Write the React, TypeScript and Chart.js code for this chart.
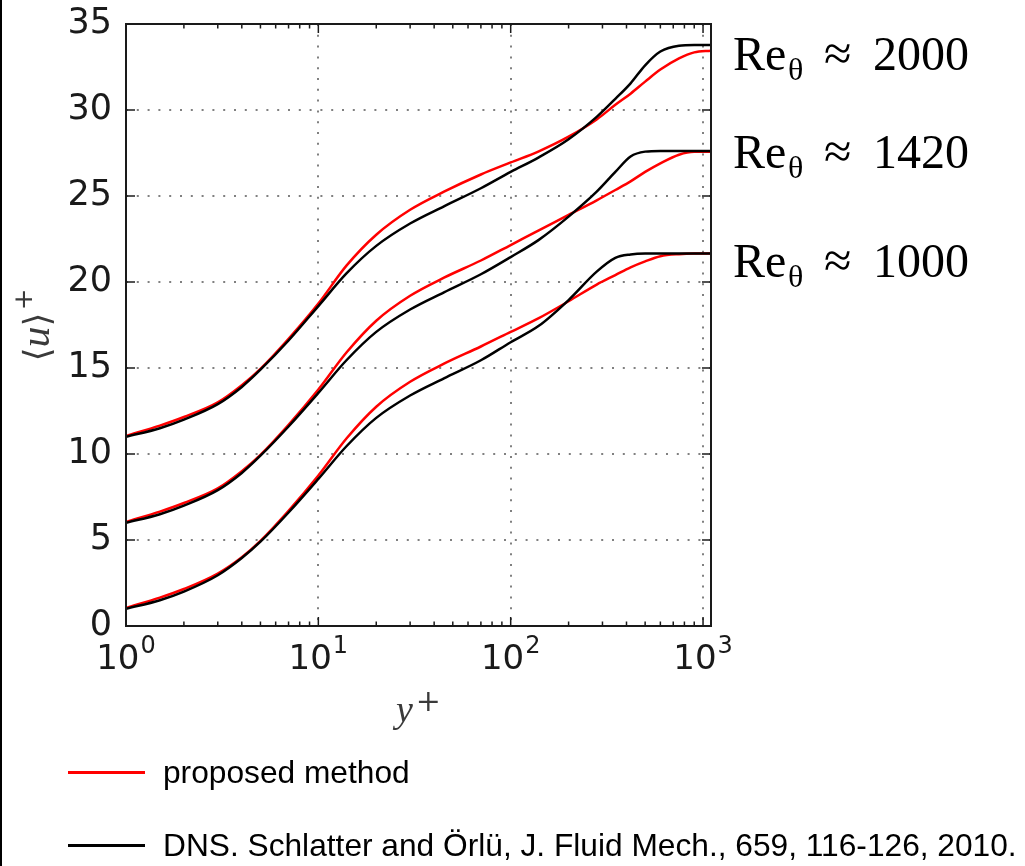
import React, { useEffect, useRef } from 'react';
import { Chart, registerables } from 'chart.js';

Chart.register(...registerables);

// ---- data ----
const yPlus = [1, 1.5, 2, 3, 4, 5, 7, 10, 14, 20, 30, 45, 70, 100, 140, 200, 280, 350, 420, 500, 600, 750, 900, 1100];

const dns1000 = [1.0, 1.5, 2.0, 2.95, 3.95, 4.9, 6.6, 8.55, 10.45, 12.1, 13.4, 14.4, 15.45, 16.5, 17.45, 18.95, 20.6, 21.4, 21.6, 21.65, 21.65, 21.65, 21.65, 21.65];
const prop1000 = [1.05, 1.65, 2.15, 3.05, 4.0, 4.95, 6.7, 8.75, 10.9, 12.75, 14.2, 15.25, 16.25, 17.1, 17.9, 18.88, 19.85, 20.4, 20.85, 21.2, 21.5, 21.62, 21.65, 21.65];

const dns1420 = [6.0, 6.5, 7.0, 7.9, 8.9, 9.9, 11.6, 13.55, 15.45, 17.1, 18.4, 19.4, 20.45, 21.45, 22.45, 23.8, 25.25, 26.4, 27.3, 27.58, 27.62, 27.62, 27.62, 27.62];
const prop1420 = [6.05, 6.65, 7.15, 8.0, 9.0, 9.95, 11.7, 13.75, 15.9, 17.75, 19.2, 20.25, 21.25, 22.15, 23.0, 23.9, 24.75, 25.35, 25.85, 26.4, 26.9, 27.4, 27.57, 27.57];

const dns2000 = [11.0, 11.5, 12.0, 12.9, 13.9, 14.9, 16.6, 18.6, 20.5, 22.1, 23.4, 24.4, 25.45, 26.4, 27.25, 28.3, 29.6, 30.65, 31.55, 32.6, 33.4, 33.74, 33.78, 33.78];
const prop2000 = [11.05, 11.65, 12.15, 13.0, 14.0, 14.95, 16.7, 18.75, 20.95, 22.75, 24.2, 25.25, 26.25, 26.95, 27.6, 28.45, 29.45, 30.3, 30.95, 31.65, 32.35, 33.0, 33.35, 33.45];

const xTickValues = [1, 10, 100, 1000];
const xTickLabels = ['10^0', '10^1', '10^2', '10^3'];
const yTickStep = 5;

const xTitleParts = ['y', '+'];
const yTitleParts = ['⟨', 'u', '⟩', '+'];

const reLabels = ['2000', '1420', '1000'];
const reLabelY = [32.3, 26.65, 20.3];

const legendLabels = ['proposed method', 'DNS. Schlatter and Örlü, J. Fluid Mech., 659, 116-126, 2010.'];
const legendColors = ['#ff0000', '#000000'];

const toPts = (ys: number[]) => ys.map((v, i) => ({ x: yPlus[i], y: v }));

const isPow10 = (v: number) => {
  const e = Math.log10(v);
  return Math.abs(e - Math.round(e)) < 1e-9;
};

const framePlugin = {
  id: 'frameTicks',
  afterDatasetsDraw(chart: any) {
    const { ctx, chartArea: a, scales } = chart;
    const xs = scales.x;
    const ys = scales.y;
    ctx.save();
    ctx.strokeStyle = '#1a1a1a';
    ctx.lineWidth = 1.5;
    const line = (x1: number, y1: number, x2: number, y2: number) => {
      ctx.beginPath();
      ctx.moveTo(x1, y1);
      ctx.lineTo(x2, y2);
      ctx.stroke();
    };
    xs.ticks.forEach((t: any) => {
      const v = t.value;
      if (v < xs.min - 1e-9 || v > xs.max + 1e-9) return;
      const e = Math.floor(Math.log10(v) + 1e-9);
      const sig = v / Math.pow(10, e);
      if (Math.abs(sig - Math.round(sig)) > 1e-6) return;
      const px = xs.getPixelForValue(v);
      const len = isPow10(v) ? 9 : 4.5;
      line(px, a.bottom, px, a.bottom - len);
      line(px, a.top, px, a.top + len);
    });
    ys.ticks.forEach((t: any) => {
      const py = ys.getPixelForValue(t.value);
      line(a.left, py, a.left + 9, py);
      line(a.right, py, a.right - 9, py);
    });
    ctx.lineWidth = 2;
    ctx.strokeRect(a.left, a.top, a.right - a.left, a.bottom - a.top);
    ctx.restore();
  },
};

const labelPlugin = {
  id: 'axisText',
  afterDraw(chart: any) {
    const { ctx, chartArea: a, scales } = chart;
    const xs = scales.x;
    ctx.save();
    ctx.textAlign = 'left';
    ctx.textBaseline = 'alphabetic';

    // x tick labels with superscript exponents
    ctx.fillStyle = '#1a1a1a';
    xTickValues.forEach((v, i) => {
      const [base, exp] = xTickLabels[i].split('^');
      const px = xs.getPixelForValue(v);
      ctx.font = '34px "DejaVu Sans"';
      const wb = ctx.measureText(base).width;
      ctx.font = '24px "DejaVu Sans"';
      const we = ctx.measureText(exp).width;
      const x0 = px - (wb + we + 1) / 2;
      ctx.font = '34px "DejaVu Sans"';
      ctx.fillText(base, x0, a.bottom + 43);
      ctx.font = '24px "DejaVu Sans"';
      ctx.fillText(exp, x0 + wb + 1, a.bottom + 27);
    });

    // x title  y^+
    ctx.fillStyle = '#3a3a3a';
    const cx = (a.left + a.right) / 2;
    ctx.font = 'italic 38px "Liberation Serif"';
    const wy = ctx.measureText(xTitleParts[0]).width;
    ctx.font = '30px "DejaVu Serif"';
    const wp = ctx.measureText(xTitleParts[1]).width;
    const tx = cx - (wy + wp + 3) / 2;
    ctx.font = 'italic 38px "Liberation Serif"';
    ctx.fillText(xTitleParts[0], tx, a.bottom + 96);
    ctx.font = '30px "DejaVu Serif"';
    ctx.fillText(xTitleParts[1], tx + wy + 3, a.bottom + 85);

    // y title <u>^+ (rotated)
    const fonts = ['36px "DejaVu Serif"', 'italic 42px "Liberation Serif"', '36px "DejaVu Serif"', '26px "DejaVu Serif"'];
    const widths = yTitleParts.map((s, i) => {
      ctx.font = fonts[i];
      return ctx.measureText(s).width;
    });
    const total = widths.reduce((p, c) => p + c, 0) + 2;
    const cy = (a.top + a.bottom) / 2;
    ctx.translate(49, cy + total / 2);
    ctx.rotate(-Math.PI / 2);
    let off = 0;
    yTitleParts.forEach((s, i) => {
      ctx.font = fonts[i];
      const dy = i === 3 ? -17 : 0;
      if (i === 3) off += 2;
      ctx.fillText(s, off, dy);
      off += widths[i];
    });
    ctx.restore();
  },
};

const annotPlugin = {
  id: 'reAnnot',
  afterDraw(chart: any) {
    const { ctx, chartArea: a, scales } = chart;
    const ys = scales.y;
    ctx.save();
    ctx.fillStyle = '#000';
    ctx.textAlign = 'left';
    ctx.textBaseline = 'alphabetic';
    reLabels.forEach((lab, i) => {
      const by = ys.getPixelForValue(reLabelY[i]);
      const x0 = a.right + 22;
      ctx.font = '48px "Liberation Serif"';
      ctx.fillText('Re', x0, by);
      ctx.font = '32px "Liberation Serif"';
      ctx.fillText('θ', x0 + 55, by + 10);
      ctx.font = '50px "Liberation Serif"';
      ctx.fillText('≈', x0 + 91, by);
      ctx.font = '48px "Liberation Serif"';
      ctx.fillText(lab, x0 + 140, by);
    });
    ctx.restore();
  },
};

export default function App() {
  const ref = useRef<HTMLCanvasElement | null>(null);

  useEffect(() => {
    if (!ref.current) return;
    const mk = (label: string, data: number[], color: string) => ({
      label,
      data: toPts(data),
      borderColor: color,
      backgroundColor: color,
      borderWidth: 2.5,
      pointRadius: 0,
      fill: false,
      cubicInterpolationMode: 'monotone' as const,
    });
    const chart = new Chart(ref.current, {
      type: 'line',
      data: {
        datasets: [
          mk('DNS Re 2000', dns2000, '#000000'),
          mk('DNS Re 1420', dns1420, '#000000'),
          mk('DNS Re 1000', dns1000, '#000000'),
          mk('proposed Re 2000', prop2000, '#ff0000'),
          mk('proposed Re 1420', prop1420, '#ff0000'),
          mk('proposed Re 1000', prop1000, '#ff0000'),
        ],
      },
      options: {
        animation: false,
        responsive: false,
        devicePixelRatio: 1,
        parsing: false as any,
        layout: { padding: { left: 0, top: 24, right: 314, bottom: 130 } },
        plugins: {
          legend: { display: false },
          tooltip: { enabled: false },
        },
        scales: {
          x: {
            type: 'logarithmic',
            min: 1,
            max: 1100,
            afterFit: (s: any) => {
              s.height = 110;
              s.paddingLeft = 0;
              s.paddingRight = 0;
            },
            grid: {
              drawTicks: false,
              lineWidth: 2,
              color: (c: any) => {
                const v = c.tick ? c.tick.value : 0;
                return v > 1 && v < 1100 && isPow10(v) ? '#808080' : 'rgba(0,0,0,0)';
              },
            },
            border: { display: false, dash: [2, 8.8] },
            ticks: { display: false, autoSkip: false, maxRotation: 0, minRotation: 0 },
          },
          y: {
            min: 0,
            max: 35,
            afterFit: (s: any) => {
              s.width = 126;
              s.paddingTop = 0;
              s.paddingBottom = 0;
            },
            grid: {
              drawTicks: false,
              lineWidth: 2,
              color: '#808080',
            },
            border: { display: false, dash: [2, 8.8] },
            ticks: {
              stepSize: yTickStep,
              padding: 14,
              color: '#1a1a1a',
              font: { family: 'DejaVu Sans', size: 35 },
            },
          },
        },
      },
      plugins: [framePlugin, labelPlugin, annotPlugin],
    });
    return () => chart.destroy();
  }, []);

  return (
    <div style={{ position: 'absolute', left: 0, top: 0, width: 1025, height: 866, background: '#fff', overflow: 'hidden' }}>
      <canvas ref={ref} width={1025} height={866} style={{ display: 'block', width: 1025, height: 866 }} />
      <div style={{ position: 'absolute', left: 0, top: 0, width: 2, height: 866, background: '#000' }} />
      {legendLabels.map((lab, i) => (
        <div
          key={lab}
          style={{
            position: 'absolute',
            left: 68,
            top: [772, 845][i] - 20,
            height: 40,
            display: 'flex',
            alignItems: 'center',
            whiteSpace: 'nowrap',
          }}
        >
          <span style={{ display: 'inline-block', width: 77, height: 3, background: legendColors[i] }} />
          <span style={{ marginLeft: 18, fontFamily: '"Liberation Sans", Arial, sans-serif', fontSize: 31.7, color: '#000' }}>{lab}</span>
        </div>
      ))}
    </div>
  );
}
